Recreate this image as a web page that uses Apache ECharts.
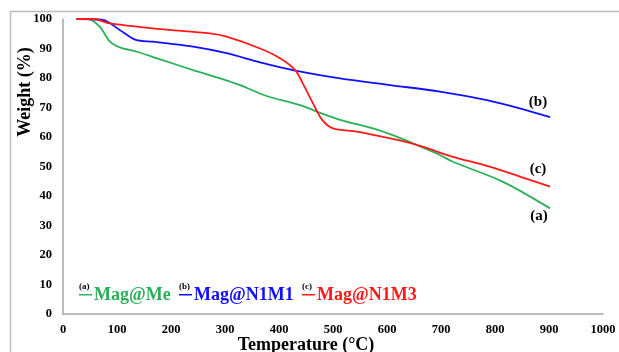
<!DOCTYPE html>
<html><head><meta charset="utf-8">
<script src="https://cdn.jsdelivr.net/npm/echarts@6/dist/echarts.min.js"></script>
<style>html,body{margin:0;padding:0;background:#fff}#c{width:619px;height:352px}</style>
</head><body><div id="c"></div>
<script>
const xTicks = [0,100,200,300,400,500,600,700,800,900,1000];
const yTicks = [0,10,20,30,40,50,60,70,80,90,100];

const tempA = [25, 46, 68, 87, 105, 137, 180, 241, 291, 328, 377, 439, 476, 513, 574, 618, 655, 698, 722, 815, 902];
const weightA = [100, 100, 97.4, 92.3, 90.4, 88.9, 86.3, 82.7, 79.9, 77.6, 73.9, 70.8, 68.2, 65.8, 62.9, 60.1, 57.3, 53.9, 51.6, 44.8, 35.8];

const tempB = [25, 74, 105, 135, 167, 241, 303, 365, 430, 513, 606, 698, 785, 846, 902];
const weightB = [100, 99.7, 96.3, 92.9, 92.3, 90.6, 88.4, 85.3, 82.5, 79.9, 77.6, 75.4, 72.5, 69.7, 66.7];

const tempC = [25, 56, 87, 180, 272, 303, 365, 402, 430, 444, 463, 480, 500, 544, 606, 655, 722, 785, 846, 902];
const weightC = [100, 100, 98.5, 96.6, 95.1, 94, 90, 86.7, 82.7, 78.2, 71.4, 65.8, 62.9, 61.8, 59.5, 57.3, 53.3, 50.2, 46.6, 43.2];

const names = ['Mag@Me', 'Mag@N1M1', 'Mag@N1M3'];
const tags = ['(a)', '(b)', '(c)'];
const colors = ['#2bb05a', '#1010ff', '#ff1a1a'];

const F = "'Liberation Serif','Times New Roman',serif";
const zip = (t, w) => t.map((v, i) => [v, w[i]]);

function mkSeries(i, t, w) {
  return {
    name: names[i], type: 'line', data: zip(t, w), smooth: 0.3,
    showSymbol: false, symbol: 'none', lineStyle: { color: colors[i], width: 1.8 },
    itemStyle: { color: colors[i] }
  };
}

function legendItem(i, x) {
  return {
    type: 'group', left: x, top: 282, children: [
      { type: 'text', left: 0, top: 0, style: { text: tags[i], font: 'bold 9px ' + F, fill: '#000' } },
      { type: 'rect', left: 0, top: 12, shape: { width: 13, height: 1.5 }, style: { fill: colors[i] } },
      { type: 'text', left: 15, top: 4, style: { text: names[i], font: 'bold 18px ' + F, fill: colors[i] } }
    ]
  };
}

const chart = echarts.init(document.getElementById('c'));
chart.setOption({
  animation: false,
  grid: { left: 63, right: 16, top: 19, bottom: 38 },
  xAxis: {
    type: 'value', min: 0, max: 1000, interval: 100,
    axisLine: { lineStyle: { color: '#a6a6a6', width: 1.5 } },
    axisTick: { show: false }, splitLine: { show: false },
    axisLabel: { margin: 9, color: '#000', fontWeight: 'bold', fontSize: 12.5, fontFamily: F,
      formatter: v => xTicks.includes(v) ? String(v) : '' }
  },
  yAxis: {
    type: 'value', min: 0, max: 100, interval: 10,
    axisLine: { show: true, lineStyle: { color: '#a6a6a6', width: 1.5 } },
    axisTick: { show: false }, splitLine: { show: false },
    axisLabel: { margin: 11, color: '#000', fontWeight: 'bold', fontSize: 12.5, fontFamily: F,
      formatter: v => yTicks.includes(v) ? String(v) : '' }
  },
  series: [mkSeries(0, tempA, weightA), mkSeries(1, tempB, weightB), mkSeries(2, tempC, weightC)],
  graphic: [
    { type: 'rect', left: 8, top: 9, z: -10, shape: { width: 700, height: 400 },
      style: { fill: 'none', stroke: '#bdbdbd', lineWidth: 1.5 } },
    { type: 'text', x: 25, y: 92, rotation: Math.PI / 2,
      style: { text: 'Weight (%)', font: 'bold 18px ' + F, fill: '#000', align: 'center', verticalAlign: 'middle' } },
    { type: 'text', x: 306, y: 345,
      style: { text: 'Temperature (°C)', font: 'bold 18px ' + F, fill: '#000', align: 'center', verticalAlign: 'middle' } },
    { type: 'text', x: 538, y: 102, style: { text: '(b)', font: 'bold 15px ' + F, fill: '#000', align: 'center', verticalAlign: 'middle' } },
    { type: 'text', x: 538, y: 169, style: { text: '(c)', font: 'bold 15px ' + F, fill: '#000', align: 'center', verticalAlign: 'middle' } },
    { type: 'text', x: 539, y: 216, style: { text: '(a)', font: 'bold 15px ' + F, fill: '#000', align: 'center', verticalAlign: 'middle' } },
    legendItem(0, 79),
    legendItem(1, 179),
    legendItem(2, 302)
  ]
});
</script></body></html>
